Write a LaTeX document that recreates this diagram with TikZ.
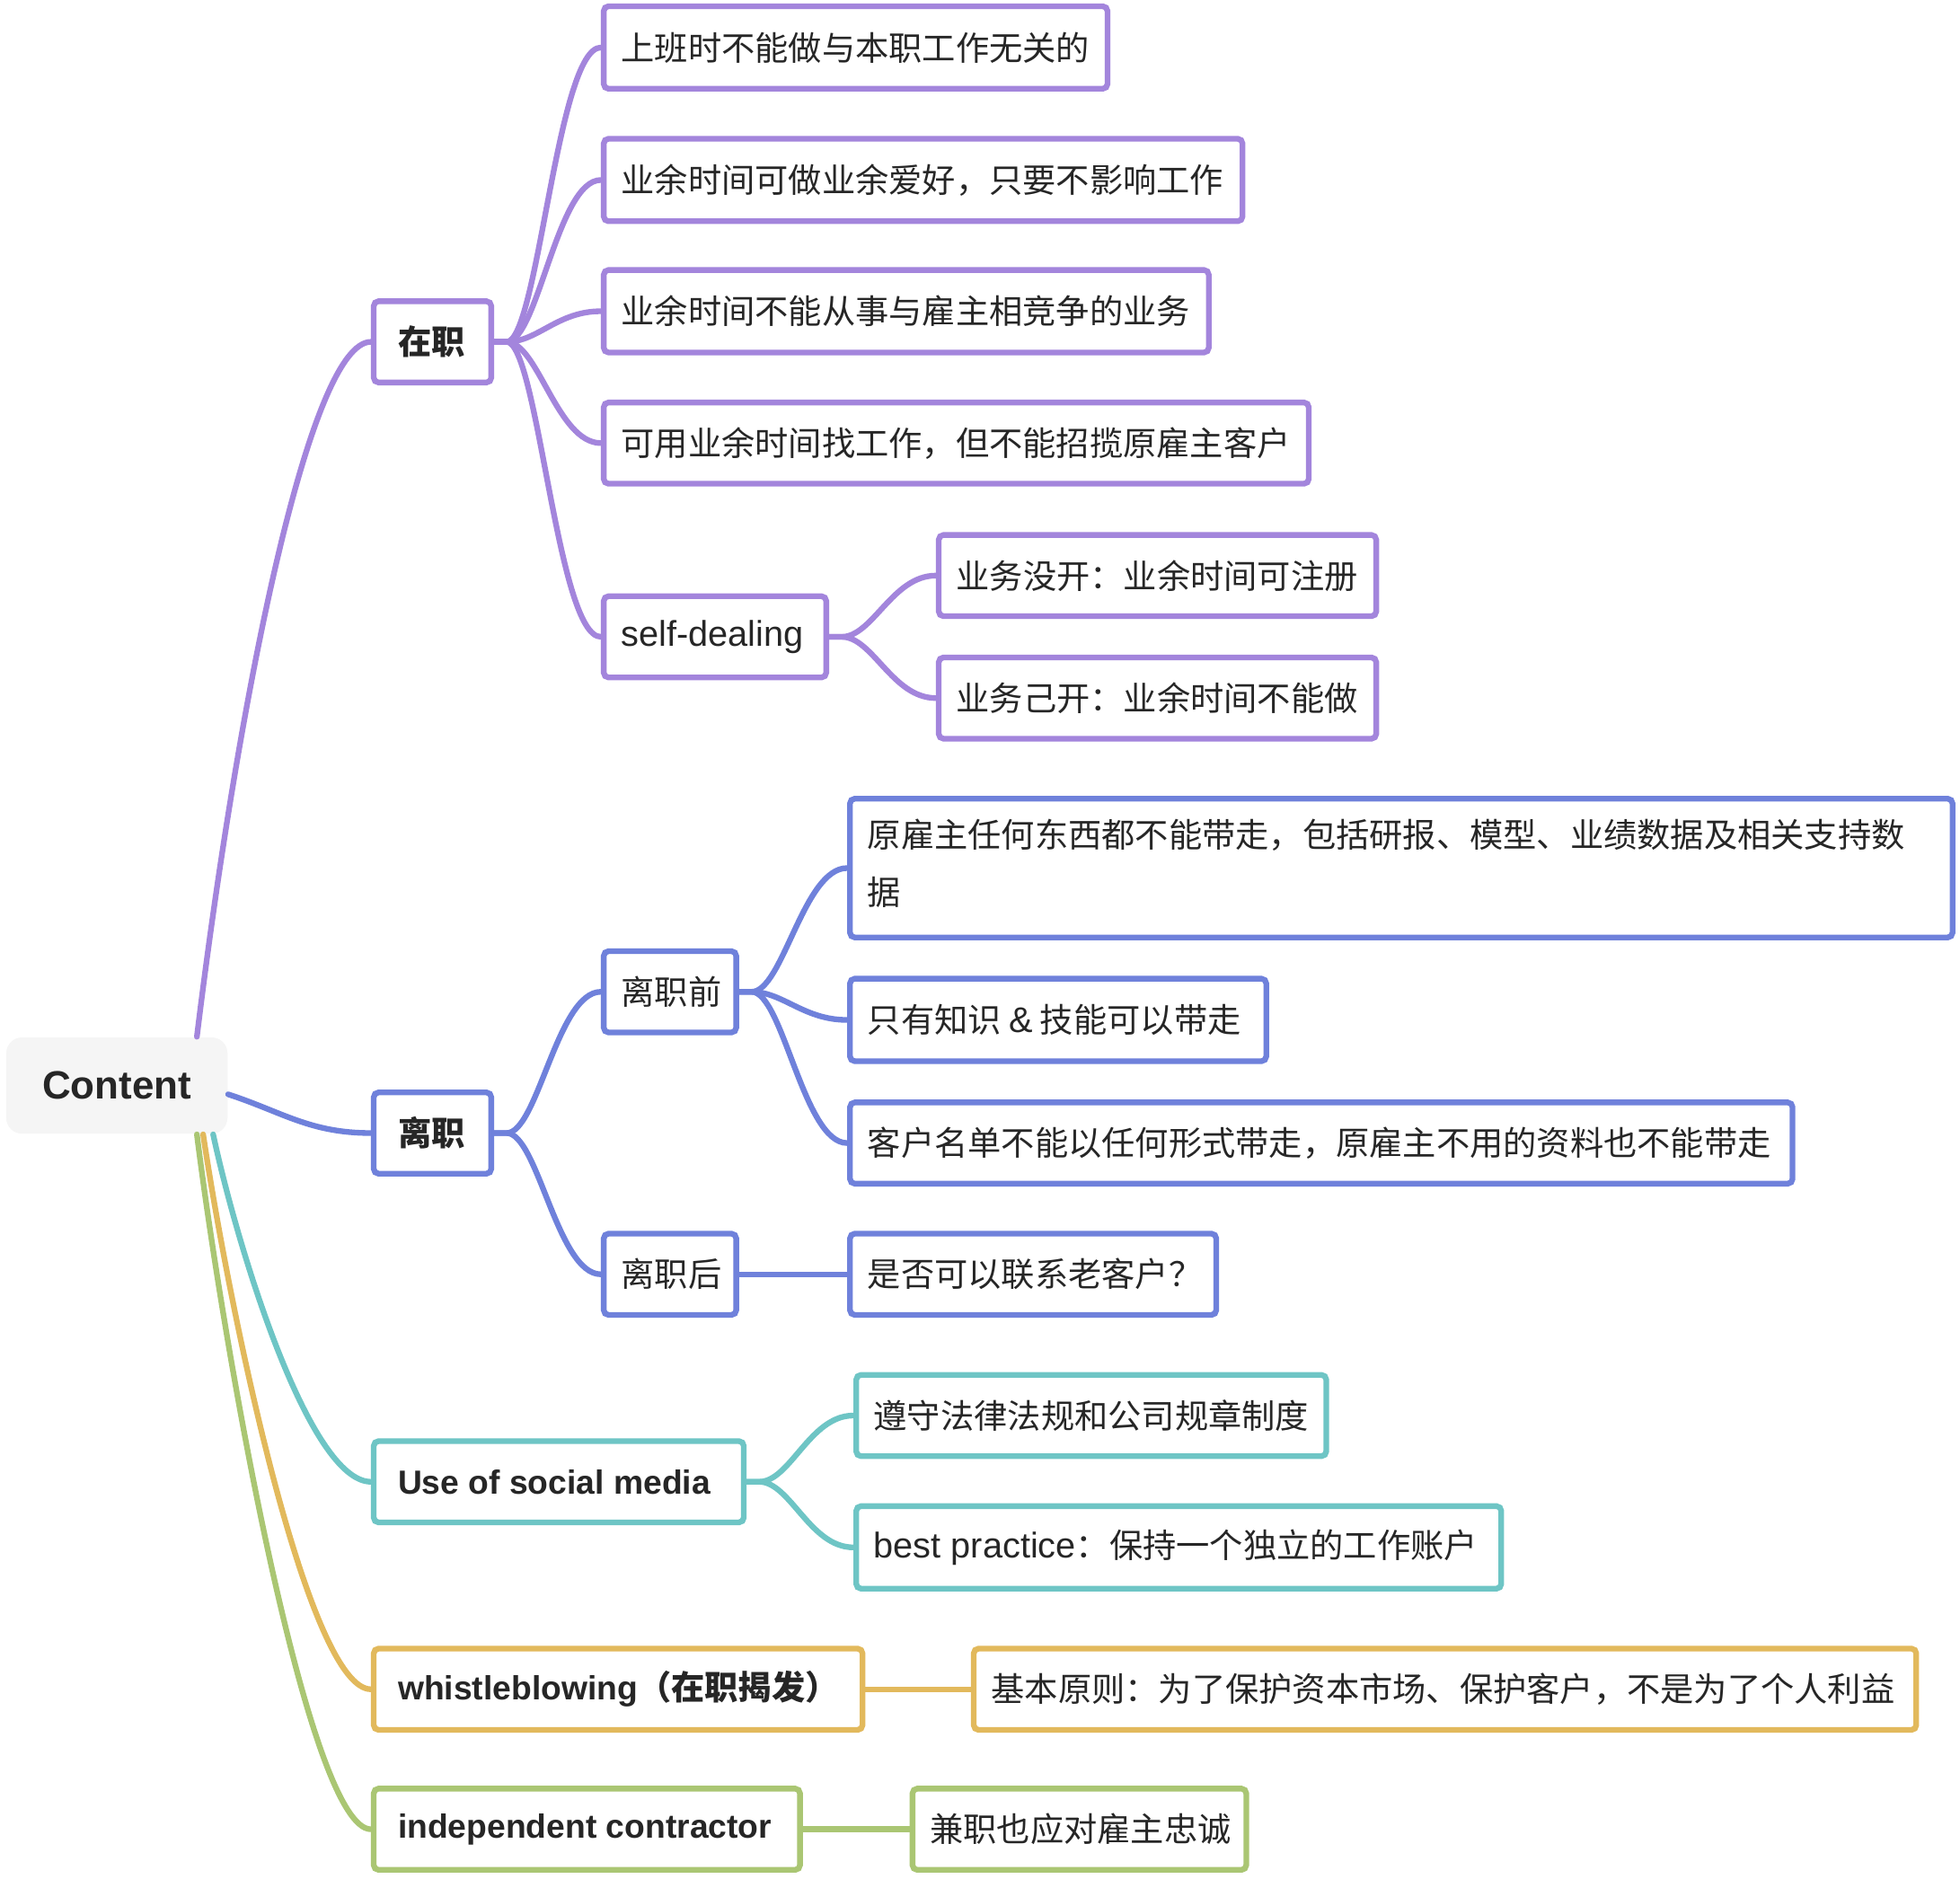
\documentclass[tikz,border=0pt]{standalone}
\usepackage{fontspec}
\setmainfont{Liberation Sans}
\newfontfamily\cjk{Noto Sans CJK SC}
\usetikzlibrary{calc}
\definecolor{cpur}{HTML}{A385DC}
\definecolor{cblu}{HTML}{6F81DB}
\definecolor{ctea}{HTML}{6EC5C5}
\definecolor{cgol}{HTML}{E2B95C}
\definecolor{cgrn}{HTML}{AAC673}
\definecolor{rootbg}{HTML}{F5F5F5}
\definecolor{txt}{HTML}{262626}
\tikzset{
  bx/.style={draw=#1, line width=1.8pt, rounded corners=1.5pt, fill=white,
    inner xsep=\mmpad cm, inner ysep=0pt, text=txt,
    font=\cjk\fontsize{10.6pt}{13pt}\selectfont},
  ln/.style={draw=#1, line width=1.8pt, line cap=round},
}
\newcommand\lat[1]{{\rmfamily\fontsize{11.3pt}{13pt}\selectfont #1}}
\def\mmpad{0.195}
\newcommand\mmbox[8][]{%
  \pgfmathsetmacro\mmw{(#6-#4)*0.013916}%
  \pgfmathsetmacro\mmh{(#7-#5)*0.013916}%
  \pgfmathsetmacro\mmtw{\mmw-2*\mmpad}%
  \node[bx=#3, minimum width=\mmw cm, minimum height=\mmh cm, #1] (#2)
    at ({(#4+#6)/2},{(#5+#7)/2}) {\makebox[\mmtw cm][l]{#8}};}
\begin{document}
\begin{tikzpicture}[x=0.013916cm,y=-0.013916cm]
\useasboundingbox (0,0) rectangle (1568,1503);
% root
\node[fill=rootbg, rounded corners=5pt, minimum width=2.463cm, minimum height=1.072cm,
  text=txt, font=\rmfamily\bfseries\fontsize{12.5pt}{15pt}\selectfont] (root) at (93.5,868.5) {Content};
% level 1
\def\mmpad{0.27}
\mmbox{zz}{cpur}{299}{241}{393}{306}{\bfseries 在职}
\mmbox{lz}{cblu}{299}{874}{393}{939}{\bfseries 离职}
\mmbox{sm}{ctea}{299}{1153}{595}{1218}{\rmfamily\bfseries Use of social media}
\mmbox{wb}{cgol}{299}{1319}{690}{1384}{\bfseries{\rmfamily whistleblowing}（在职揭发）}
\mmbox{ic}{cgrn}{299}{1431}{640}{1496}{\rmfamily\bfseries independent contractor}
\def\mmpad{0.195}
% zai zhi
\mmbox{a1}{cpur}{483}{5}{886}{71}{上班时不能做与本职工作无关的}
\mmbox{a2}{cpur}{483}{111}{994}{177}{业余时间可做业余爱好，只要不影响工作}
\mmbox{a3}{cpur}{483}{216}{967}{282}{业余时间不能从事与雇主相竞争的业务}
\mmbox{a4}{cpur}{483}{322}{1047}{387}{可用业余时间找工作，但不能招揽原雇主客户}
\mmbox{sd}{cpur}{483}{477}{661}{542}{\lat{self-dealing}}
\mmbox{s1}{cpur}{751}{428}{1101}{493}{业务没开：业余时间可注册}
\mmbox{s2}{cpur}{751}{526}{1101}{591}{业务己开：业余时间不能做}
% li zhi
\mmbox{b1}{cblu}{483}{761}{589}{826}{离职前}
\mmbox{b11}{cblu}{680}{639}{1562}{750}{\begin{tabular}{@{}l@{}}原雇主任何东西都不能带走，包括研报、模型、业绩数据及相关支持数\\[5.1pt]据\end{tabular}}
\mmbox{b12}{cblu}{680}{783}{1013}{849}{只有知识 \lat{\&} 技能可以带走}
\mmbox{b13}{cblu}{680}{882}{1434}{947}{客户名单不能以任何形式带走，原雇主不用的资料也不能带走}
\mmbox{b2}{cblu}{483}{987}{589}{1052}{离职后}
\mmbox{b21}{cblu}{680}{987}{973}{1052}{是否可以联系老客户？}
% social media
\mmbox{m1}{ctea}{685}{1100}{1061}{1165}{遵守法律法规和公司规章制度}
\mmbox{m2}{ctea}{685}{1205}{1201}{1271}{\lat{best practice}：保持一个独立的工作账户}
% whistle
\mmbox{w1}{cgol}{779}{1319}{1533}{1384}{基本原则：为了保护资本市场、保护客户，不是为了个人利益}
% contractor
\mmbox{i1}{cgrn}{730}{1431}{997}{1496}{兼职也应对雇主忠诚}
% root connectors
\draw[ln=cpur] ($(root.north east)+(-25,0)$) .. controls +(33,-270) and +(-49,0) .. (zz.west);
\draw[ln=cblu] ($(root.east)+(0,7)$) .. controls +(43,14) and +(-49,0) .. (lz.west);
\draw[ln=ctea] ($(root.south east)+(-12,0)$) .. controls +(20,93) and +(-49,0) .. (sm.west);
\draw[ln=cgol] ($(root.south east)+(-20,0)$) .. controls +(23,153) and +(-49,0) .. (wb.west);
\draw[ln=cgrn] ($(root.south east)+(-25,0)$) .. controls +(23,183) and +(-49,0) .. (ic.west);
% branch connectors
\foreach \c in {a1,a2,a3,a4,sd}
  \draw[ln=cpur] (zz.east) -- ++(10,0) .. controls +(25,0) and +(-35,0) .. (\c.west);
\foreach \c in {s1,s2}
  \draw[ln=cpur] (sd.east) -- ++(10,0) .. controls +(25,0) and +(-35,0) .. (\c.west);
\foreach \c in {b1,b2}
  \draw[ln=cblu] (lz.east) -- ++(10,0) .. controls +(25,0) and +(-35,0) .. (\c.west);
\foreach \c in {b11,b12,b13}
  \draw[ln=cblu] (b1.east) -- ++(10,0) .. controls +(25,0) and +(-35,0) .. (\c.west);
\foreach \c in {m1,m2}
  \draw[ln=ctea] (sm.east) -- ++(10,0) .. controls +(25,0) and +(-35,0) .. (\c.west);
\draw[ln=cblu] (b2.east) -- (b21.west);
\draw[ln=cgol] (wb.east) -- (w1.west);
\draw[ln=cgrn] (ic.east) -- (i1.west);
\end{tikzpicture}
\end{document}
